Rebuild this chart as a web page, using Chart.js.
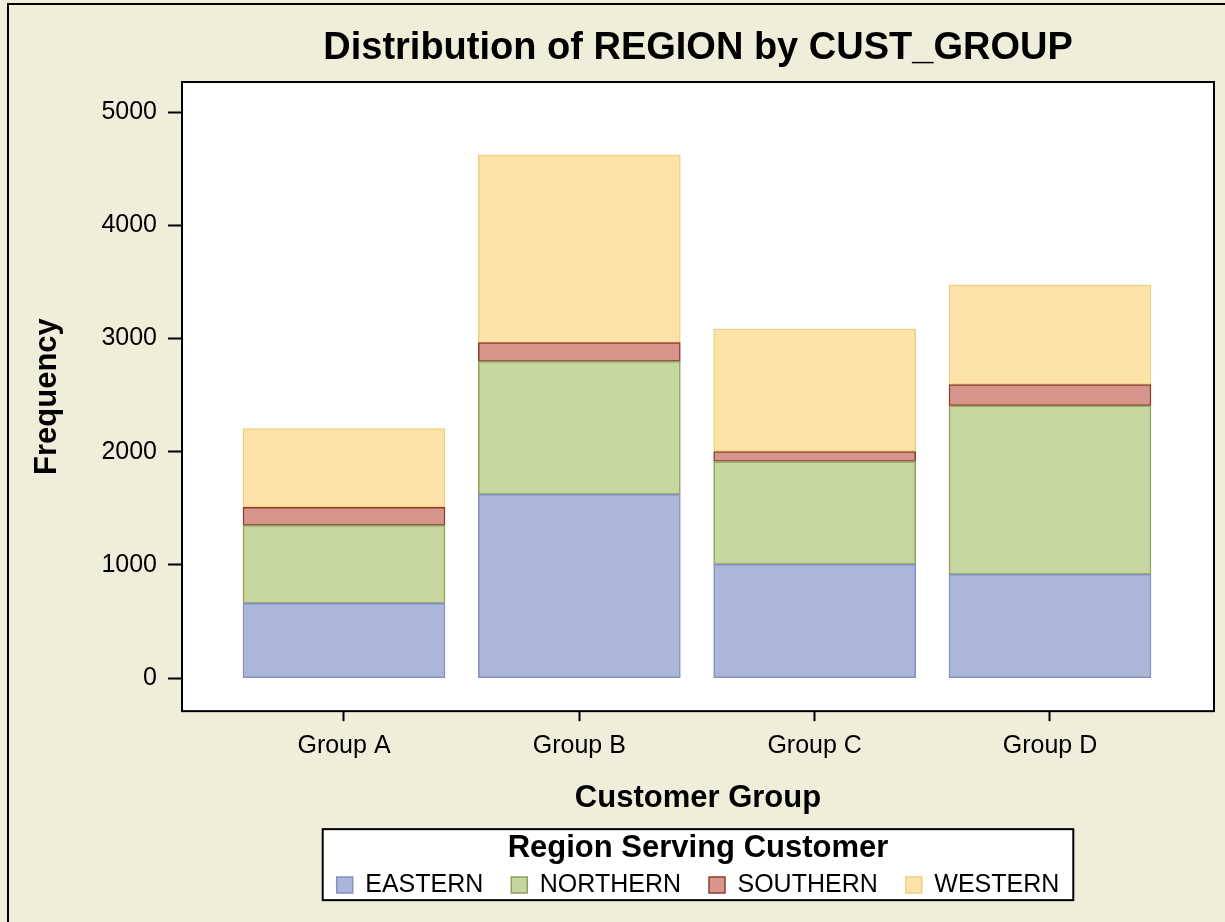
<!doctype html>
<html lang="en">
  <head>
    <meta charset="UTF-8" />
    <title>Distribution of REGION by CUST_GROUP</title>
    <script src="https://cdn.jsdelivr.net/npm/chart.js"></script>
    <style>
      body {
        margin: 0;
        padding: 0;
        background-color: #efeedb;
        overflow: hidden;
      }
      .chart-container {
        position: relative;
        width: 1225px;
        height: 922px;
      }
    </style>
  </head>
  <body>
    <div class="chart-container">
      <canvas id="barChart"></canvas>
    </div>

    <script>
      const categories = ['Group A', 'Group B', 'Group C', 'Group D'];
      const regions = ['EASTERN', 'NORTHERN', 'SOUTHERN', 'WESTERN'];
      const eastern = [661, 1623, 1005, 917];
      const northern = [688, 1175, 909, 1490];
      const southern = [159, 165, 88, 186];
      const western = [697, 1658, 1084, 881];
      const yTicks = [0, 1000, 2000, 3000, 4000, 5000];

      const seriesValues = [eastern, northern, southern, western];
      const fillColors = ['#acb6da', '#c6d69f', '#d6968b', '#fde3a7'];
      const edgeColors = ['#8590c2', '#8ea05c', '#8e3b2e', '#ecd083'];

      Chart.defaults.font.family = 'Arial, "Liberation Sans", sans-serif';
      Chart.defaults.color = '#000';

      // beige page, white plot area, black frames and the boxed legend
      const framePlugin = {
        id: 'framePlugin',
        beforeDraw(chart) {
          const { ctx, chartArea: a, width, height } = chart;
          ctx.save();
          ctx.fillStyle = '#efeedb';
          ctx.fillRect(0, 0, width, height);
          ctx.fillStyle = '#ffffff';
          ctx.fillRect(a.left, a.top, a.right - a.left, a.bottom - a.top);

          const box = legendBox(chart);
          if (box) {
            ctx.fillRect(box.left, box.top, box.right - box.left, box.bottom - box.top);
          }

          ctx.strokeStyle = '#000';
          ctx.lineWidth = 2;
          ctx.beginPath();
          ctx.moveTo(8, height);
          ctx.lineTo(8, 4);
          ctx.lineTo(width, 4);
          ctx.stroke();
          ctx.restore();
        },
        afterDatasetsDraw(chart) {
          const { ctx, chartArea: a } = chart;
          ctx.save();
          ctx.strokeStyle = '#000';
          ctx.lineWidth = 2;
          ctx.strokeRect(a.left, a.top, a.right - a.left, a.bottom - a.top);
          ctx.restore();
        },
        afterDraw(chart) {
          const box = legendBox(chart);
          if (!box) return;
          const ctx = chart.ctx;
          ctx.save();
          ctx.strokeStyle = '#000';
          ctx.lineWidth = 2;
          ctx.strokeRect(box.left, box.top, box.right - box.left, box.bottom - box.top);
          ctx.restore();
        },
      };

      function legendBox(chart) {
        const legend = chart.legend;
        if (!legend || !legend.lineWidths) return null;
        const pad = legend.options.labels.padding;
        const rowWidth = legend.lineWidths[0] - pad;
        const cx = (legend.left + legend.right) / 2;
        return {
          left: cx - rowWidth / 2 - 14,
          right: cx + rowWidth / 2 + 14,
          top: legend.top + 6,
          bottom: legend.top + 77,
        };
      }

      const ctx = document.getElementById('barChart').getContext('2d');

      const chartData = {
        datasets: seriesValues.map((values, k) => ({
          label: regions[k],
          data: values.map((v, i) => ({ x: i + 1, y: v })),
          backgroundColor: fillColors[k],
          borderColor: edgeColors[k],
          borderWidth: 1.5,
          borderSkipped: false,
          barThickness: 202,
        })),
      };

      const config = {
        type: 'bar',
        data: chartData,
        options: {
          responsive: true,
          maintainAspectRatio: false,
          animation: false,
          layout: {
            padding: { top: 4, left: 8, right: 11, bottom: 14.5 },
          },
          plugins: {
            title: {
              display: true,
              text: 'Distribution of REGION by CUST_GROUP',
              fullSize: false,
              color: '#000',
              font: { size: 38, weight: 'bold' },
              padding: { top: 21.7, bottom: 10.7 },
            },
            legend: {
              position: 'bottom',
              fullSize: false,
              title: {
                display: true,
                text: 'Region Serving Customer',
                color: '#000',
                font: { size: 31, weight: 'bold', lineHeight: 0.35 },
                padding: { top: 10, bottom: 0.5 },
              },
              labels: {
                boxWidth: 16,
                boxHeight: 16,
                padding: 28,
                color: '#000',
                font: { size: 25 },
              },
            },
            tooltip: { enabled: false },
          },
          scales: {
            x: {
              type: 'linear',
              stacked: true,
              offset: false,
              min: 0.3116,
              max: 4.697,
              afterBuildTicks: (scale) => {
                scale.ticks = categories.map((c, i) => ({ value: i + 1 }));
              },
              afterFit: (scale) => {
                scale.height = 112;
              },
              ticks: {
                color: '#000',
                font: { size: 25 },
                padding: 10,
                maxRotation: 0,
                autoSkip: false,
                callback: (value) => categories[value - 1] || '',
              },
              grid: {
                offset: false,
                drawOnChartArea: false,
                drawTicks: true,
                tickLength: 10,
                tickWidth: 2,
                tickColor: '#000',
                color: '#000',
              },
              border: { display: false },
              title: {
                display: true,
                text: 'Customer Group',
                color: '#000',
                font: { size: 31, weight: 'bold' },
                padding: { top: 0, bottom: 6.4 },
              },
            },
            y: {
              stacked: true,
              min: -291,
              max: 5265,
              afterBuildTicks: (scale) => {
                scale.ticks = yTicks.map((v) => ({ value: v }));
              },
              afterFit: (scale) => {
                scale.width = 174;
              },
              ticks: {
                color: '#000',
                font: { size: 25 },
                padding: 11,
                callback: (value) => String(value),
              },
              grid: {
                drawOnChartArea: false,
                drawTicks: true,
                tickLength: 14,
                tickWidth: 2,
                tickColor: '#000',
                color: '#000',
              },
              border: { display: false },
              title: {
                display: true,
                text: 'Frequency',
                color: '#000',
                font: { size: 31, weight: 'bold' },
                padding: { top: 21, bottom: 0 },
              },
            },
          },
        },
        plugins: [framePlugin],
      };

      new Chart(ctx, config);
    </script>
  </body>
</html>
